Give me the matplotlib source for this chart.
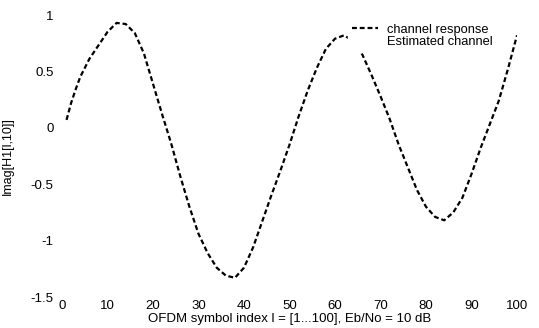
import matplotlib
matplotlib.use("Agg")
import matplotlib.pyplot as plt
from matplotlib.lines import Line2D

# symbol index and Imag[H1[l,10]]
symbol_index = [1, 2, 3, 4, 5, 6, 8, 10, 12, 14, 16, 18, 20, 22, 24, 26, 28, 30,
                32, 34, 36, 38, 40, 42, 44, 46, 48, 50, 52, 54, 56, 58, 60, 62,
                64, 66, 68, 70, 72, 74, 76, 78, 80, 82, 84, 86, 88, 90, 92, 94,
                96, 98, 100]
channel_response = [0.07, 0.22, 0.34, 0.45, 0.53, 0.61, 0.73, 0.85, 0.93, 0.92,
                    0.84, 0.66, 0.39, 0.12, -0.14, -0.43, -0.70, -0.94, -1.11,
                    -1.24, -1.31, -1.33, -1.24, -1.06, -0.83, -0.60, -0.38,
                    -0.15, 0.10, 0.33, 0.53, 0.70, 0.79, 0.82, 0.77, 0.65, 0.47,
                    0.28, 0.08, -0.15, -0.35, -0.55, -0.70, -0.79, -0.82, -0.75,
                    -0.62, -0.41, -0.18, 0.03, 0.24, 0.52, 0.82]

xticks = [0, 10, 20, 30, 40, 50, 60, 70, 80, 90, 100]
yticks = [-1.5, -1, -0.5, 0, 0.5, 1]
ytick_labels = ["-1.5", "-1", "-0.5", "0", "0.5", "1"]
legend_labels = ["channel response", "Estimated channel"]
xlabel = "OFDM symbol index l = [1...100], Eb/No = 10 dB"
ylabel = "Imag[H1[l,10]]"

plt.rcParams['font.family'] = ['Liberation Sans', 'DejaVu Sans']

W, H = 539, 328
fig = plt.figure(figsize=(W / 100, H / 100), dpi=100)
ax = fig.add_axes([62 / W, (H - 297) / H, (517 - 62) / W, (297 - 15) / H])

ax.plot(symbol_index, channel_response, color='black', lw=1.6,
        linestyle=(0, (2.2, 1.3)))

ax.set_xlim(0, 100)
ax.set_ylim(-1.5, 1)
ax.set_xticks(xticks)
ax.set_yticks(yticks)
ax.set_yticklabels(ytick_labels)
for s in ax.spines.values():
    s.set_visible(False)
ax.tick_params(axis='both', length=0, labelsize=9.5)
ax.tick_params(axis='x', pad=2)
ax.tick_params(axis='y', pad=6)
ax.set_xlabel(xlabel, fontsize=9.5, labelpad=1)
ax.set_ylabel(ylabel, fontsize=9, labelpad=12)

handles = [Line2D([], [], color='black', lw=1.6, linestyle=(0, (2.2, 1.3))),
           Line2D([], [], color='none')]
leg = ax.legend(handles, legend_labels, loc='upper left',
                bbox_to_anchor=(348 / W, 1 - 20 / H),
                bbox_transform=fig.transFigure, frameon=True, fancybox=False,
                facecolor='white', edgecolor='white', framealpha=1,
                fontsize=9.3, handlelength=2.0, handletextpad=0.75,
                labelspacing=0.0, borderpad=0.3, borderaxespad=0)

fig.savefig("out.png", dpi=100)
